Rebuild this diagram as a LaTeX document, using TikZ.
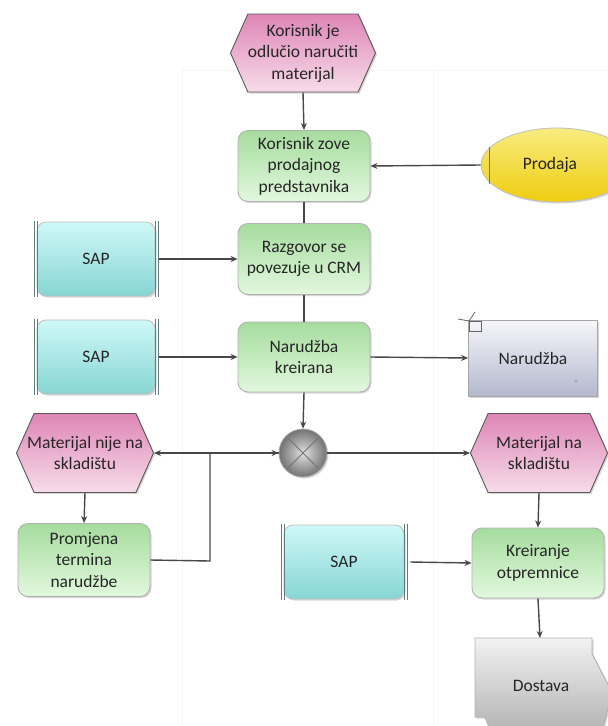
\documentclass[tikz,border=0pt]{standalone}
\usepackage{fontspec}
\setmainfont{Carlito}
\usetikzlibrary{arrows.meta,shapes.symbols,shapes.geometric,shadows,calc}
\definecolor{lineC}{HTML}{484848}
\definecolor{evTop}{HTML}{DE86B6}
\definecolor{evBot}{HTML}{F7DCEA}
\definecolor{fnTop}{HTML}{A6DC9E}
\definecolor{fnBot}{HTML}{E2F8DE}
\definecolor{apTop}{HTML}{CFF8F8}
\definecolor{apBot}{HTML}{86D6D4}
\definecolor{apLine}{HTML}{5E7E7E}
\definecolor{orgTop}{HTML}{F8EC80}
\definecolor{orgBot}{HTML}{EFCD10}
\definecolor{docTop}{HTML}{F6F6FA}
\definecolor{docBot}{HTML}{B4B8CE}
\definecolor{txtC}{HTML}{262626}
\definecolor{faint}{HTML}{F6F6F6}
\tikzset{
  txt/.style={font=\fontsize{17.5}{21.5}\selectfont, text=txtC, align=center, inner sep=0pt},
  base/.style={txt, drop shadow={shadow xshift=1.5pt,shadow yshift=-1.5pt,opacity=0.16,fill=black}},
  evbox/.style={base, signal, signal to=east and west, signal pointer angle=132,
     draw=black!65, line width=0.9pt, top color=evTop, bottom color=evBot},
  fnbox/.style={base, rectangle, rounded corners=10pt, draw=black!30, line width=0.9pt,
     top color=fnTop, bottom color=fnBot, minimum width=132pt, minimum height=71pt},
  apbox/.style={base, rectangle, rounded corners=9pt, draw=black!25, line width=0.8pt,
     top color=apTop, bottom color=apBot, minimum width=118pt, minimum height=74pt},
  orgbox/.style={base, ellipse, draw=black!25, line width=0.8pt, top color=orgTop, bottom color=orgBot},
  docbox/.style={base, rectangle, draw=black!35, line width=0.8pt, top color=docTop, bottom color=docBot},
  xorbox/.style={circle, draw=black!35, line width=0.8pt, inner color=black!12, outer color=black!55,
     minimum size=48pt, inner sep=0pt, drop shadow={shadow xshift=1.5pt,shadow yshift=-1.5pt,opacity=0.16,fill=black}},
  conn/.style={draw=lineC, line width=1.4pt, -{Stealth[length=7pt,width=6pt]}},
  plain/.style={draw=lineC, line width=1.4pt},
  apside/.style={draw=apLine, line width=0.8pt},
}
\begin{document}
\begin{tikzpicture}[x=1pt,y=-1pt]
\useasboundingbox (0,0) rectangle (608,726);
\clip (0,0) rectangle (608,726);
% faint background lines
\draw[faint, line width=0.8pt] (182,726) -- (182,70) -- (608,70);
\draw[faint, line width=0.8pt] (433,70) -- (433,726);

% nodes
\node[evbox, minimum width=142pt, minimum height=78pt] (e1) at (303,53) {Korisnik je\\odlučio naručiti\\materijal};
\node[fnbox] (f1) at (304,166) {Korisnik zove\\prodajnog\\predstavnika};
\node[orgbox, minimum width=152pt, minimum height=74pt] (org) at (557,165) {\hspace*{-14pt}Prodaja};
\node[apbox] (sap1) at (96,259) {SAP};
\node[fnbox] (f2) at (304,259) {Razgovor se\\povezuje u CRM};
\node[apbox] (sap2) at (96,357) {SAP};
\node[fnbox, minimum height=70pt] (f3) at (304,357) {Narudžba\\kreirana};
\node[docbox, minimum width=129pt, minimum height=76pt] (doc) at (533,358) {Narudžba};
\node[xorbox] (xor) at (303,453) {};
\node[evbox, inner xsep=-9pt, minimum width=137pt, minimum height=79pt] (e2) at (85,453) {Materijal nije na\\skladištu};
\node[evbox, minimum width=137pt, minimum height=79pt] (e3) at (539,453) {Materijal na\\skladištu};
\node[fnbox, minimum height=73pt] (f4) at (84,560) {Promjena\\termina\\narudžbe};
\node[apbox, minimum width=120pt] (sap3) at (344,562) {SAP};
\node[fnbox, minimum width=132pt, minimum height=70pt] (f5) at (538,563) {Kreiranje\\otpremnice};

% Dostava (product shape, partly cut by the page edge)
\shade[top color=black!5, bottom color=black!32, draw=black!30, line width=0.9pt,
  drop shadow={shadow xshift=1.5pt,shadow yshift=-1.5pt,opacity=0.16,fill=black}]
  (475,638) -- (592,638) -- (592,654) -- (612,692) -- (600,740) -- (494,740) -- (485,717) -- (475,717) -- cycle;
\node[txt] (dost) at (541,686) {Dostava};
\coordinate (dostTop) at (540,638);

% SAP side bars
\foreach \s in {sap1,sap2,sap3}{
  \draw[apside] ($(\s.north west)+(-2.5,-1)$) -- ($(\s.south west)+(-2.5,1)$);
  \draw[apside] ($(\s.north west)+(0.5,-1)$) -- ($(\s.south west)+(0.5,1)$);
  \draw[apside] ($(\s.north east)+(2.5,-1)$) -- ($(\s.south east)+(2.5,1)$);
  \draw[apside] ($(\s.north east)+(-0.5,-1)$) -- ($(\s.south east)+(-0.5,1)$);
}
% Prodaja inner line
\draw[draw=black!55, line width=0.8pt] (489,147) -- (489,184);
% XOR cross
\draw[black!55, line width=0.8pt] ($(xor.center)+(-15,-15)$) -- ($(xor.center)+(15,15)$);
\draw[black!55, line width=0.8pt] ($(xor.center)+(15,-15)$) -- ($(xor.center)+(-15,15)$);
% document marker
\draw[black!60, line width=0.9pt] (469,321) rectangle (481,331);
\draw[black!60, line width=0.8pt] (458,319) -- (469,321);
\draw[black!60, line width=0.8pt] (475,312) -- (469,321);
\fill[black!50] (576,381) circle (0.8);

% connectors
\coordinate (j1) at (210,561);
\draw[conn] (e1.south) -- (f1.north);
\draw[conn] (org.west) -- (f1.east);
\draw[plain] (f1.south) -- (f2.north);
\draw[conn] ($(sap1.east)+(4,0)$) -- (f2.west);
\draw[plain] (f2.south) -- (f3.north);
\draw[conn] ($(sap2.east)+(4,0)$) -- (f3.west);
\draw[conn] (f3.east) -- (doc.west);
\draw[conn] (f3.south) -- (xor.north);
\draw[conn] (xor.east) -- (e3.west);
\draw[conn] (xor.west) -- (e2.east);
\draw[conn] (f4.east) -- (j1) |- (xor.west);
\draw[conn] (e2.south) -- (f4.north);
\draw[conn] (e3.south) -- (f5.north);
\draw[conn] ($(sap3.east)+(6,0)$) -- (f5.west);
\draw[conn] (f5.south) -- (dostTop);
\end{tikzpicture}
\end{document}
